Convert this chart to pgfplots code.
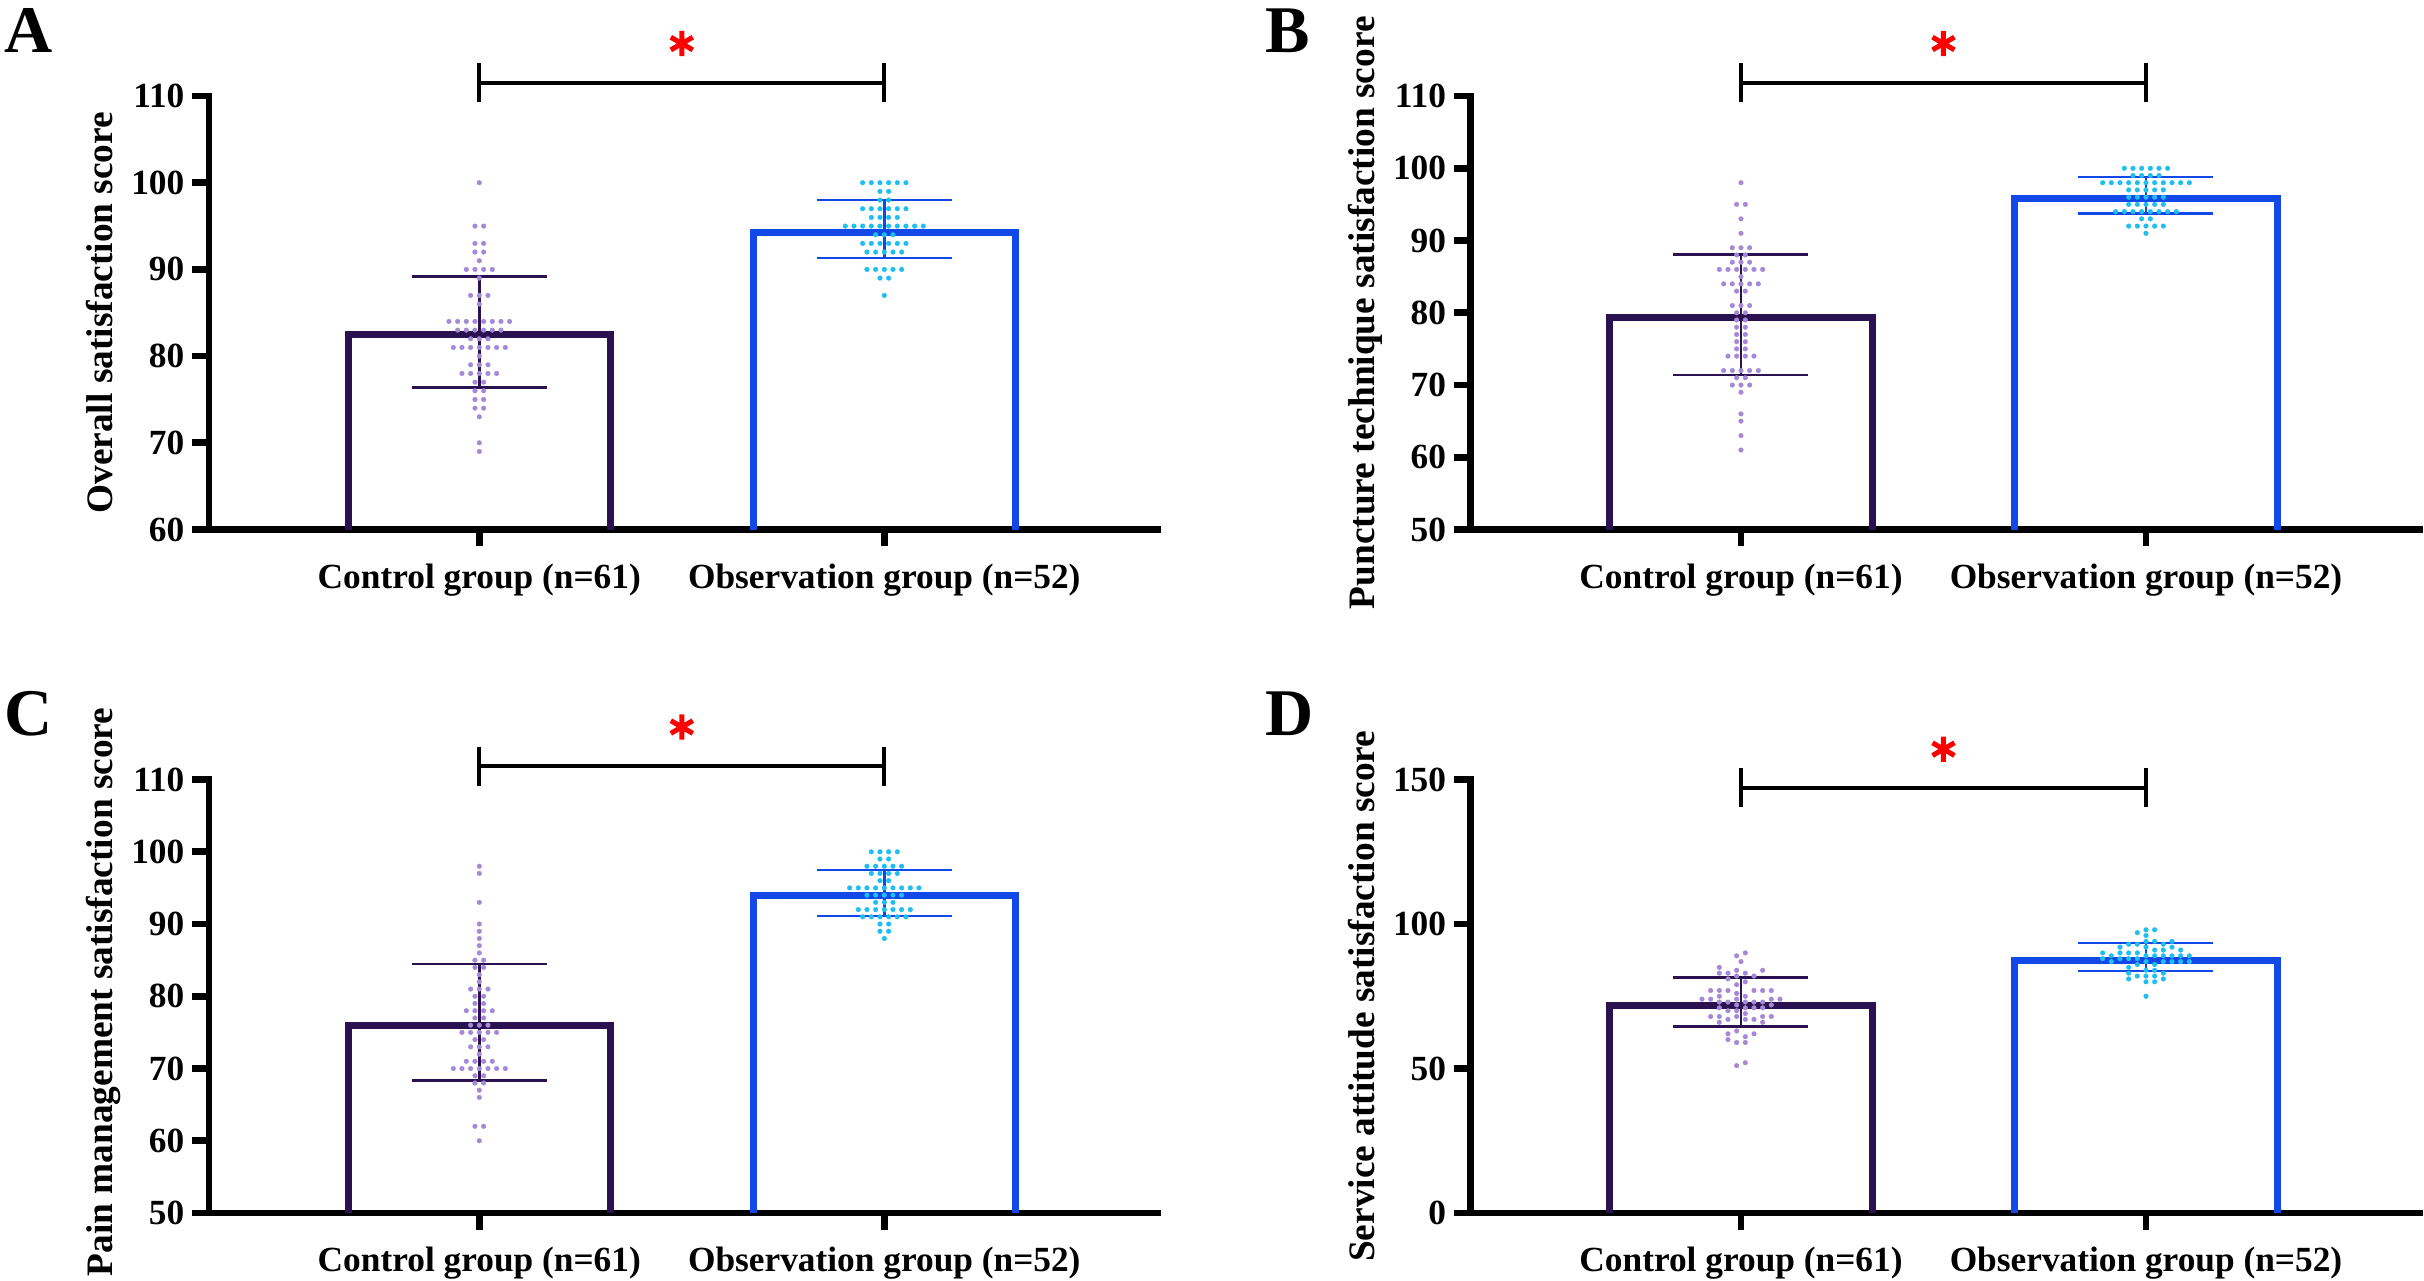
\documentclass[border=0pt]{standalone}
\usepackage{fontspec}
\setmainfont{Liberation Serif}
\usepackage{pgfplots}
\usepackage{pgfplotstable}
\pgfplotsset{compat=1.18}
\definecolor{conLine}{RGB}{42,17,80}
\definecolor{conDot}{RGB}{165,137,214}
\definecolor{obsLine}{RGB}{18,72,232}
\definecolor{obsDot}{RGB}{31,190,240}
\newcommand{\tickfont}{\bfseries\fontsize{10.6}{12}\selectfont}
\newcommand{\labfont}{\bfseries\fontsize{11.2}{13}\selectfont}
\newcommand{\letfont}{\bfseries\fontsize{20}{24}\selectfont}

% s = beeswarm slot (dot widths from the centre), y = score
\pgfplotstableread[row sep=\\]{s y\\
0 100\\ -0.5 95\\ 0.5 95\\ -0.5 93\\ 0.5 93\\ -0.5 92\\ 0.5 92\\ 0 91\\
-1.5 90\\ -0.5 90\\ 0.5 90\\ 1.5 90\\ 0 89\\ -1 87\\ 0 87\\ 1 87\\ 0 86\\
-3.5 84\\ -2.5 84\\ -1.5 84\\ -0.5 84\\ 0.5 84\\ 1.5 84\\ 2.5 84\\ 3.5 84\\
-2.5 83\\ -1.5 83\\ -0.5 83\\ 0.5 83\\ 1.5 83\\ 2.5 83\\ -1 82\\ 0 82\\ 1 82\\
-3 81\\ -2 81\\ -1 81\\ 0 81\\ 1 81\\ 2 81\\ 3 81\\ 0 80\\ -1 79\\ 0 79\\ 1 79\\
-2 78\\ -1 78\\ 0 78\\ 1 78\\ 2 78\\ -0.5 77\\ 0.5 77\\ -0.5 76\\ 0.5 76\\
-0.5 75\\ 0.5 75\\ -0.5 74\\ 0.5 74\\ 0 73\\ 0 70\\ 0 69\\
}\Acon
\pgfplotstableread[row sep=\\]{s y\\
-2.5 100\\ -1.5 100\\ -0.5 100\\ 0.5 100\\ 1.5 100\\ 2.5 100\\ -0.5 99\\ 0.5 99\\
-0.5 98\\ 0.5 98\\ -2.5 97\\ -1.5 97\\ -0.5 97\\ 0.5 97\\ 1.5 97\\ 2.5 97\\
-1.5 96\\ -0.5 96\\ 0.5 96\\ 1.5 96\\
-4.5 95\\ -3.5 95\\ -2.5 95\\ -1.5 95\\ -0.5 95\\ 0.5 95\\ 1.5 95\\ 2.5 95\\ 3.5 95\\ 4.5 95\\
-1 94\\ 0 94\\ 1 94\\ -2.5 93\\ -1.5 93\\ -0.5 93\\ 0.5 93\\ 1.5 93\\ 2.5 93\\
-2 92\\ -1 92\\ 0 92\\ 1 92\\ 2 92\\ -2 90\\ -1 90\\ 0 90\\ 1 90\\ 2 90\\
-0.5 89\\ 0.5 89\\ 0 87\\
}\Aobs
\pgfplotstableread[row sep=\\]{s y\\
0 98\\ -0.5 95\\ 0.5 95\\ 0 93\\ 0 91\\ -1 89\\ 0 89\\ 1 89\\ -0.5 88\\ 0.5 88\\
-1 87\\ 0 87\\ 1 87\\ -2.5 86\\ -1.5 86\\ -0.5 86\\ 0.5 86\\ 1.5 86\\ 2.5 86\\ 0 85\\
-2 84\\ -1 84\\ 0 84\\ 1 84\\ 2 84\\ -0.5 83\\ 0.5 83\\ -1 81\\ 0 81\\ 1 81\\
-0.5 80\\ 0.5 80\\ -0.5 79\\ 0.5 79\\ -0.5 78\\ 0.5 78\\ -0.5 77\\ 0.5 77\\
-0.5 76\\ 0.5 76\\ -0.5 75\\ 0.5 75\\ -1.5 74\\ -0.5 74\\ 0.5 74\\ 1.5 74\\
-2 72\\ -1 72\\ 0 72\\ 1 72\\ 2 72\\ -0.5 71\\ 0.5 71\\ -1 70\\ 0 70\\ 1 70\\
0 69\\ 0 66\\ 0 65\\ 0 63\\ 0 61\\
}\Bcon
\pgfplotstableread[row sep=\\]{s y\\
-2.5 100\\ -1.5 100\\ -0.5 100\\ 0.5 100\\ 1.5 100\\ 2.5 100\\
-1.5 99\\ -0.5 99\\ 0.5 99\\ 1.5 99\\
-5 98\\ -4 98\\ -3 98\\ -2 98\\ -1 98\\ 0 98\\ 1 98\\ 2 98\\ 3 98\\ 4 98\\ 5 98\\
-2 97\\ -1 97\\ 0 97\\ 1 97\\ 2 97\\ -2 96\\ -1 96\\ 0 96\\ 1 96\\ 2 96\\
-2 95\\ -1 95\\ 0 95\\ 1 95\\ 2 95\\
-3.5 94\\ -2.5 94\\ -1.5 94\\ -0.5 94\\ 0.5 94\\ 1.5 94\\ 2.5 94\\ 3.5 94\\
-0.5 93\\ 0.5 93\\ -2 92\\ -1 92\\ 0 92\\ 1 92\\ 2 92\\ 0 91\\
}\Bobs
\pgfplotstableread[row sep=\\]{s y\\
0 98\\ 0 97\\ 0 93\\ 0 90\\ 0 89\\ 0 88\\ 0 87\\ 0 86\\ -0.5 85\\ 0.5 85\\
-0.5 84\\ 0.5 84\\ 0 83\\ 0 82\\ -1 81\\ 0 81\\ 1 81\\ -0.5 80\\ 0.5 80\\
-0.5 79\\ 0.5 79\\ -1.5 78\\ -0.5 78\\ 0.5 78\\ 1.5 78\\ -0.5 77\\ 0.5 77\\
-1 76\\ 0 76\\ 1 76\\ -2 75\\ -1 75\\ 0 75\\ 1 75\\ 2 75\\ -0.5 74\\ 0.5 74\\
-1 73\\ 0 73\\ 1 73\\ 0 72\\ -1.5 71\\ -0.5 71\\ 0.5 71\\ 1.5 71\\
-3 70\\ -2 70\\ -1 70\\ 0 70\\ 1 70\\ 2 70\\ 3 70\\ -0.5 69\\ 0.5 69\\
-0.5 68\\ 0.5 68\\ 0 67\\ 0 66\\ -0.5 62\\ 0.5 62\\ 0 60\\
}\Ccon
\pgfplotstableread[row sep=\\]{s y\\
-1.5 100\\ -0.5 100\\ 0.5 100\\ 1.5 100\\ -0.5 99\\ 0.5 99\\
-2 98\\ -1 98\\ 0 98\\ 1 98\\ 2 98\\ -1.5 97\\ -0.5 97\\ 0.5 97\\ 1.5 97\\
-0.5 96\\ 0.5 96\\ -4 95\\ -3 95\\ -2 95\\ -1 95\\ 0 95\\ 1 95\\ 2 95\\ 3 95\\ 4 95\\
-2 94\\ -1 94\\ 0 94\\ 1 94\\ 2 94\\ -1 93\\ 0 93\\ 1 93\\
-3 92\\ -2 92\\ -1 92\\ 0 92\\ 1 92\\ 2 92\\ 3 92\\
-2.5 91\\ -1.5 91\\ -0.5 91\\ 0.5 91\\ 1.5 91\\ 2.5 91\\
-0.5 90\\ 0.5 90\\ -0.5 89\\ 0.5 89\\ 0 88\\
}\Cobs
\pgfplotstableread[row sep=\\]{s y\\
-0.5 89\\ 0.5 90\\ 0 87\\ -2.5 85\\ -2.5 83\\ -1.5 83\\ -0.5 84\\ 0.5 83\\ 1.5 82\\ 2.5 84\\
-1.5 81\\ -0.5 82\\ 0.5 80\\ -0.5 79\\
-3.5 77\\ -2.5 77\\ -1.5 77\\ 1.5 77\\ 2.5 77\\ 3.5 77\\ -2.5 75\\ -0.5 76\\ 0.5 75\\
-4.5 74\\ -3.5 74\\ -0.5 74\\ 3.5 74\\ 4.5 74\\
-2.5 73\\ -1.5 73\\ 0.5 73\\ 1.5 73\\ 2.5 73\\
-2.5 71\\ -0.5 72\\ 0.5 71\\ 1.5 71\\ 2.5 71\\ 3.5 72\\ -1.5 70\\ -0.5 70\\
-3.5 68\\ -2.5 68\\ -1.5 67\\ -0.5 68\\ 0.5 69\\ 0.5 67\\ 1.5 67\\ 2.5 68\\ 3.5 68\\
-2.5 66\\ 2.5 66\\ -0.5 63\\ -1.5 62\\ 0.5 61\\ 1.5 62\\ -1.5 60\\ -0.5 59\\ 0.5 59\\
-0.5 51\\ 0.5 52\\
}\Dcon
\pgfplotstableread[row sep=\\]{s y\\
-1 97\\ 0 98\\ 1 98\\ 0 96\\ -3 92\\ -2 93\\ -1 93\\ 0 94\\ 0 92\\ 1 94\\ 2 93\\ 3 94\\ 3 92\\
-5 90\\ -4 89\\ -3 90\\ -2 90\\ -1 90\\ 0 89\\ 1 91\\ 2 91\\ 3 89\\ 4 91\\ 5 89\\
-5 88\\ -4 87\\ -3 88\\ -2 88\\ -1 88\\ 0 87\\ 1 89\\ 2 89\\ 2 87\\ 3 87\\ 4 89\\ 4 87\\ 5 87\\
-2 85\\ -1 86\\ 0 84\\ 1 86\\ 1 84\\ -2 83\\ -1 82\\ 0 82\\ 1 82\\ 2 83\\
-2 81\\ 0 80\\ 1 80\\ 2 81\\ 0 75\\
}\Dobs

\pgfplotsset{
  panel/.style={
    scale only axis, width=284.6pt, height=130.05pt,
    xmin=-0.6674, xmax=1.675,
    axis x line*=bottom, axis y line*=left,
    axis line style={line width=2pt, -, line cap=rect},
    tick align=outside, major tick length=5pt,
    major tick style={line width=2pt, black},
    minor tick num=0,
    xtick={0,1},
    xticklabels={Control group (n=61), Observation group (n=52)},
    xticklabel style={font=\tickfont, anchor=base, inner sep=0pt, yshift=-12.6pt},
    yticklabel style={font=\tickfont, anchor=east, inner sep=0pt, xshift=-2.2pt},
    /pgf/number format/assume math mode=true,
    ylabel style={font=\labfont, at={(axis description cs:-0.1012,0.5)}, anchor=base},
    clip=false,
  },
  conbar/.style={conLine, line width=2.1pt, line join=miter, mark=none},
  obsbar/.style={obsLine, line width=2.1pt, line join=miter, mark=none},
  condots/.style={only marks, color=conDot, mark=*, mark size=0.7pt,
    mark options={solid, draw=conDot, fill=conDot, line width=0.1pt}},
  obsdots/.style={only marks, color=obsDot, mark=*, mark size=0.7pt,
    mark options={solid, draw=obsDot, fill=obsDot, line width=0.1pt}},
  conerr/.style={conLine, mark=none, error bars/.cd, y dir=both, y explicit,
    error mark=|,
    error bar style={line width=0.8pt, conLine},
    error mark options={line width=0.8pt, conLine, mark size=20.25pt}},
  obserr/.style={obsLine, mark=none, error bars/.cd, y dir=both, y explicit,
    error mark=|,
    error bar style={line width=0.8pt, obsLine},
    error mark options={line width=0.8pt, obsLine, mark size=20.25pt}},
  brk/.style={black, line width=1.3pt, mark=none},
  star/.style={only marks, mark=asterisk, mark size=3.8pt, mark options={red, line width=1.5pt}},
}

\begin{document}
\begin{tikzpicture}
\path[use as bounding box] (0,0) rectangle (727.2pt,384pt);

% ---------- A ----------
\begin{axis}[panel, at={(62.7pt,225.15pt)}, anchor=south west,
  ymin=60, ymax=110, ytick={60,70,...,110},
  ylabel={Overall satisfaction score}]
\addplot[conbar] coordinates {(-0.324,60) (-0.324,82.45) (0.324,82.45) (0.324,60)};
\addplot[obsbar] coordinates {(0.676,60) (0.676,94.3) (1.324,94.3) (1.324,60)};
\addplot[condots] table[x expr=\thisrow{s}*0.0214, y=y] {\Acon};
\addplot[obsdots] table[x expr=1+\thisrow{s}*0.0214, y=y] {\Aobs};
\addplot[conerr] coordinates {(0,82.8) +- (0,6.4)};
\addplot[obserr] coordinates {(1,94.65) +- (0,3.35)};
\addplot[brk] coordinates {(0,113.8) (0,109.3)};
\addplot[brk] coordinates {(1,113.8) (1,109.3)};
\addplot[brk] coordinates {(0,111.53) (1,111.53)};
\addplot[star] coordinates {(0.5,116.05)};
\end{axis}

% ---------- B ----------
\begin{axis}[panel, at={(441.2pt,225.15pt)}, anchor=south west,
  ymin=50, ymax=110, ytick={50,60,...,110},
  ylabel={Puncture technique satisfaction score}]
\addplot[conbar] coordinates {(-0.324,50) (-0.324,79.35) (0.324,79.35) (0.324,50)};
\addplot[obsbar] coordinates {(0.676,50) (0.676,95.8) (1.324,95.8) (1.324,50)};
\addplot[condots] table[x expr=\thisrow{s}*0.0214, y=y] {\Bcon};
\addplot[obsdots] table[x expr=1+\thisrow{s}*0.0214, y=y] {\Bobs};
\addplot[conerr] coordinates {(0,79.75) +- (0,8.35)};
\addplot[obserr] coordinates {(1,96.25) +- (0,2.55)};
\addplot[brk] coordinates {(0,114.56) (0,109.17)};
\addplot[brk] coordinates {(1,114.56) (1,109.17)};
\addplot[brk] coordinates {(0,111.84) (1,111.84)};
\addplot[star] coordinates {(0.5,117.27)};
\end{axis}

% ---------- C ----------
\begin{axis}[panel, at={(62.7pt,20.1pt)}, anchor=south west,
  ymin=50, ymax=110, ytick={50,60,...,110},
  ylabel={Pain management satisfaction score},
  ylabel style={at={(axis description cs:-0.1012,0.51)}}]
\addplot[conbar] coordinates {(-0.324,50) (-0.324,75.9) (0.324,75.9) (0.324,50)};
\addplot[obsbar] coordinates {(0.676,50) (0.676,93.9) (1.324,93.9) (1.324,50)};
\addplot[condots] table[x expr=\thisrow{s}*0.0214, y=y] {\Ccon};
\addplot[obsdots] table[x expr=1+\thisrow{s}*0.0214, y=y] {\Cobs};
\addplot[conerr] coordinates {(0,76.4) +- (0,8.05)};
\addplot[obserr] coordinates {(1,94.3) +- (0,3.2)};
\addplot[brk] coordinates {(0,114.56) (0,109.17)};
\addplot[brk] coordinates {(1,114.56) (1,109.17)};
\addplot[brk] coordinates {(0,111.84) (1,111.84)};
\addplot[star] coordinates {(0.5,117.27)};
\end{axis}

% ---------- D ----------
\begin{axis}[panel, at={(441.2pt,20.1pt)}, anchor=south west,
  ymin=0, ymax=150, ytick={0,50,100,150},
  ylabel={Service attitude satisfaction score}]
\addplot[conbar] coordinates {(-0.324,0) (-0.324,71.9) (0.324,71.9) (0.324,0)};
\addplot[obsbar] coordinates {(0.676,0) (0.676,87.4) (1.324,87.4) (1.324,0)};
\addplot[condots] table[x expr=\thisrow{s}*0.0214, y=y] {\Dcon};
\addplot[obsdots] table[x expr=1+\thisrow{s}*0.0214, y=y] {\Dobs};
\addplot[conerr] coordinates {(0,73.0) +- (0,8.4)};
\addplot[obserr] coordinates {(1,88.55) +- (0,4.85)};
\addplot[brk] coordinates {(0,153.9) (0,140.4)};
\addplot[brk] coordinates {(1,153.9) (1,140.4)};
\addplot[brk] coordinates {(0,147.0) (1,147.0)};
\addplot[star] coordinates {(0.5,160.5)};
\end{axis}

\node[anchor=base west, inner sep=0pt, font=\letfont] at (1.2pt,368.4pt) {A};
\node[anchor=base west, inner sep=0pt, font=\letfont] at (379.5pt,368.4pt) {B};
\node[anchor=base west, inner sep=0pt, font=\letfont] at (1.2pt,163.35pt) {C};
\node[anchor=base west, inner sep=0pt, font=\letfont] at (379.5pt,163.35pt) {D};
\end{tikzpicture}
\end{document}
